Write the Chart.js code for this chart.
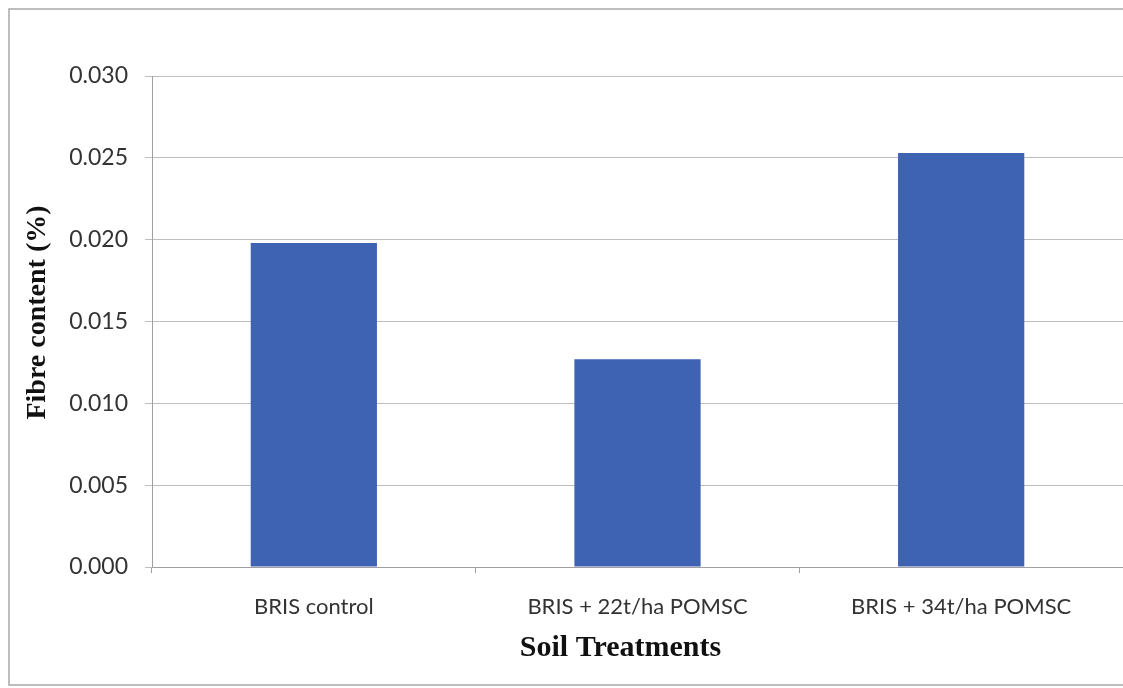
<!DOCTYPE html>
<html>
<head>
<meta charset="utf-8">
<script src="https://cdn.jsdelivr.net/npm/chart.js@4"></script>
<style>
html,body{margin:0;padding:0;background:#fff;overflow:hidden;}
#wrap{position:relative;width:1123px;height:688px;overflow:hidden;}
</style>
</head>
<body>
<div id="wrap"><canvas id="c" width="1123" height="688"></canvas></div>
<script>
const categories = ["BRIS control", "BRIS + 22t/ha POMSC", "BRIS + 34t/ha POMSC"];
const fibreContent = [0.0198, 0.0127, 0.0253];
const yTicks = [0.000, 0.005, 0.010, 0.015, 0.020, 0.025, 0.030];
const yTitle = "Fibre content (%)";
const xTitle = "Soil Treatments";

const frame = {
  id: 'frame',
  beforeDraw(chart) {
    const ctx = chart.ctx;
    ctx.save();
    ctx.fillStyle = '#fff';
    ctx.fillRect(0, 0, chart.width, chart.height);
    ctx.strokeStyle = '#a8a8a8';
    ctx.lineWidth = 1.5;
    ctx.beginPath();
    ctx.moveTo(chart.width + 5, 9);
    ctx.lineTo(9, 9);
    ctx.lineTo(9, 685);
    ctx.lineTo(chart.width + 5, 685);
    ctx.stroke();
    ctx.restore();
  },
  afterDraw(chart) {
    const ctx = chart.ctx;
    const a = chart.chartArea;
    ctx.save();
    ctx.fillStyle = '#111';
    ctx.textAlign = 'center';
    ctx.textBaseline = 'middle';
    ctx.font = 'bold 30px "Liberation Serif", "Times New Roman", serif';
    ctx.fillText(xTitle, (a.left + a.right) / 2 - 17, 648);
    ctx.translate(38, (a.top + a.bottom) / 2 - 9);
    ctx.rotate(-Math.PI / 2);
    ctx.font = 'bold 28px "Liberation Serif", "Times New Roman", serif';
    ctx.fillText(yTitle, 0, 0);
    ctx.restore();
  }
};

new Chart(document.getElementById('c'), {
  type: 'bar',
  data: {
    labels: categories,
    datasets: [{
      data: fibreContent,
      backgroundColor: '#3E63B3',
      borderWidth: 0,
      barPercentage: 1,
      categoryPercentage: 0.39
    }]
  },
  options: {
    responsive: false,
    animation: false,
    devicePixelRatio: 1,
    layout: { padding: { left: 0, right: 0, top: 76, bottom: 10 } },
    plugins: { legend: { display: false }, tooltip: { enabled: false } },
    scales: {
      x: {
        grid: { offset: true, drawOnChartArea: false, drawTicks: true, tickLength: 6, color: '#a0a0a0' },
        border: { display: true, color: '#a0a0a0', width: 1 },
        ticks: { color: '#333', font: { family: 'Lato', size: 22 }, padding: 21, maxRotation: 0 },
        afterFit(scale) { scale.height = 688 - 10 - 567; }
      },
      y: {
        min: 0, max: 0.03,
        afterBuildTicks(scale) { scale.ticks = yTicks.map(v => ({ value: v })); },
        ticks: {
          color: '#333', font: { family: 'Lato', size: 23 }, padding: 17,
          callback: v => Number(v).toFixed(3)
        },
        grid: { color: '#bdbdbd', lineWidth: 1, drawTicks: true, tickLength: 7 },
        border: { display: true, color: '#a0a0a0', width: 1 },
        afterFit(scale) { scale.width = 152; }
      }
    }
  },
  plugins: [frame]
});
</script>
</body>
</html>
